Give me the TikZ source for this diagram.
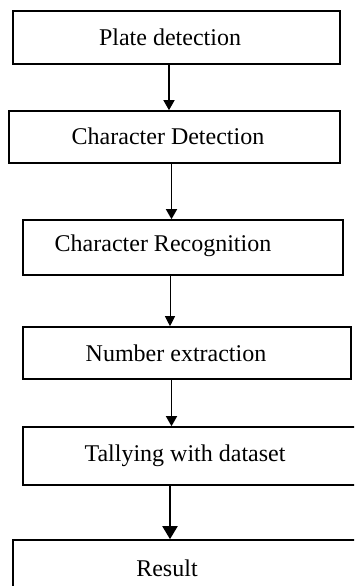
\documentclass[tikz,border=0pt]{standalone}
\usepackage{fontspec}
\setmainfont{Liberation Serif}
\usetikzlibrary{positioning}
\usetikzlibrary{arrows.meta}
\tikzstyle{stepbox}=[draw,rectangle,line width=1.6pt,inner sep=0pt]
\tikzstyle{flow} = [draw,line width=1.5pt,-{Triangle[width=11pt,length=10pt]}]
\tikzstyle{thinflow} = [draw,line width=1pt,-{Triangle[width=10pt,length=10pt]}]
\tikzstyle{bigflow} = [draw,line width=2pt,-{Triangle[width=15pt,length=13pt]}]

\begin{document}
\begin{tikzpicture}[x=1pt,y=-1pt,font=\fontsize{24}{28}\selectfont]

   \useasboundingbox (0,0) rectangle (354,586);
   \clip (0,0) rectangle (354,586);

    \foreach \pos/\name/\w/\h/\dx/\dy/\txt in {{(176.5,37.5)/plate/327/53/-6.5/0/Plate detection},
        {(174.5,137)/chardet/331/52/-6.5/1/Character Detection},
        {(183,247.5)/charrec/320/55/-20/2/Character Recognition},
        {(187,353)/numext/328/52/-11/0/Number extraction},
        {(196.5,456)/tally/347/58/-11.5/0/Tallying with dataset},
        {(191.5,575)/result/357/70/-24.5/7/Result}}
        \node[stepbox,minimum width=\w pt,minimum height=\h pt,
              label={[xshift=\dx pt,yshift=\dy pt]center:\txt}] (\name) at \pos {};

    \foreach \source/\dest/\sa/\sb/\kind in {plate/chardet/-7.5/-5.5/flow, chardet/charrec/-3/-11.5/flow,
        charrec/numext/-13/-17/thinflow, numext/tally/-15.5/-25/flow}
            \path[\kind] ([xshift=\sa pt]\source.south) -- ([xshift=\sb pt]\dest.north);

    \path[bigflow] ([xshift=-26.5pt]tally.south) -- ([xshift=-21.5pt]result.north);

\end{tikzpicture}
\end{document}
